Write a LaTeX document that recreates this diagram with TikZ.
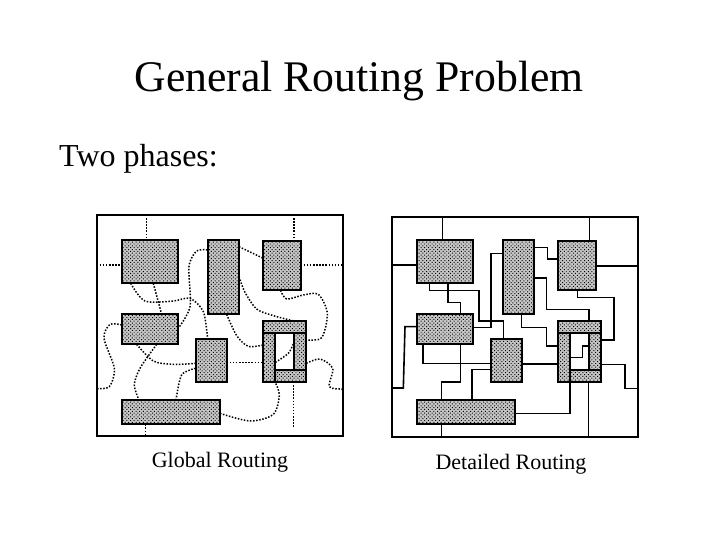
\documentclass[tikz,border=0pt]{standalone}
\usepackage{fontspec}
\setmainfont{Liberation Serif}
\usetikzlibrary{fit, patterns.meta}
\tikzset{
	board/.style={draw, line width=1.7pt, inner sep=0, outer sep=0},
	block/.style={draw, line width=2pt, inner sep=0, outer sep=0, preaction={fill=gray!45}, pattern={Dots[radius=.7pt, distance=2.6pt, angle=45]}, pattern color=black},
	wire/.style={line width=1.6pt},
	dotwire/.style={line width=1.5pt, dash pattern=on 1.5pt off 1.6pt},
	caption/.style={font=\fontsize{22}{26}\selectfont, inner sep=0}
}
\newcommand{\boxAt}[6]{
	\path (#3, #4)coordinate(#1a) (#5, #6)coordinate(#1b);
	\node[#2, fit=(#1a)(#1b)](#1){};
}
\newcommand{\routeBlocks}[1]{
	\boxAt{#1A}{block}{97}{106}{265}{235}
	\boxAt{#1B}{block}{355}{106}{447}{328}
	\boxAt{#1C}{block}{520}{107}{632}{256}
	\boxAt{#1D}{block}{95}{328}{263}{418}
	\boxAt{#1E}{block}{317}{402}{410}{530}
	\boxAt{#1F}{block}{95}{585}{390}{658}
	\boxAt{#1T}{block}{520}{348}{649}{383}
	\boxAt{#1L}{block}{520}{383}{556}{531}
	\boxAt{#1R}{block}{612}{383}{649}{494}
	\boxAt{#1S}{block}{556}{494}{649}{531}
}

\begin{document}
\begin{tikzpicture}[x=1pt, y=-1pt]
	\useasboundingbox (0, 0) rectangle (720, 540);
	\node[font=\fontsize{43.7}{50}\selectfont, inner sep=0](title) at (359, 81.5){General Routing Problem};
	\node[font=\fontsize{32}{38}\selectfont, inner sep=0, anchor=west](phases) at (59, 158.5){Two phases:};
	\node[caption](globalcap) at (220, 462){Global Routing};
	\node[caption](detailcap) at (511, 464){Detailed Routing};

	\begin{scope}[shift={(90, 205)}, x=1/3*1pt, y=-1/3*1pt]
		\boxAt{gFrame}{board}{20}{30}{758}{692}
		\routeBlocks{g}
		\draw[dotwire](gFrame.north -| 170, 0)--(gA.north -| 170, 0);
		\draw[dotwire](gFrame.west |- 0, 180)--(gA.west |- 0, 180);
		\draw[dotwire](gFrame.north -| 612, 0)--(gC.north -| 612, 0);
		\draw[dotwire](gC.east |- 0, 180)--(gFrame.east |- 0, 180);
		\draw[dotwire](gB.east |- 0, 125)--(gC.west |- 0, 160);
		\draw[dotwire]plot[smooth] coordinates{(gB.east |- 0, 215) (465, 262) (500, 312) (550, 332) (gT.north -| 612, 0)};
		\draw[dotwire]plot[smooth] coordinates{(gC.south -| 572, 0) (590, 282) (640, 270) (685, 268) (712, 325) (695, 398) (gR.east |- 0, 405)};
		\draw[dotwire]plot[smooth] coordinates{(gA.south -| 122, 0) (165, 288) (250, 288) (300, 280) (340, 320) (gE.north -| 353, 0)};
		\draw[dotwire](gA.south -| 190, 0)--(gD.north -| 215, 0);
		\draw[dotwire]plot[smooth] coordinates{(gD.east |- 0, 372) (300, 305) (297, 185) (320, 138) (gB.west |- 0, 135)};
		\draw[dotwire]plot[smooth] coordinates{(gB.south -| 410, 0) (440, 392) (475, 424) (gL.west |- 0, 420)};
		\draw[dotwire]plot[smooth] coordinates{(gD.west |- 0, 360) (60, 358) (42, 400) (73, 490) (58, 545) (gFrame.west |- 0, 551)};
		\draw[dotwire]plot[smooth] coordinates{(gD.south -| 140, 0) (190, 468) (250, 478) (gE.west |- 0, 475)};
		\draw[dotwire]plot[smooth] coordinates{(gD.south -| 200, 0) (150, 490) (133, 540) (gF.north -| 147, 0)};
		\draw[dotwire]plot[smooth] coordinates{(gE.west |- 0, 490) (275, 510) (gF.north -| 258, 0)};
		\draw[dotwire](gE.east |- 0, 473)--(gL.west |- 0, 473);
		\draw[dotwire]plot[smooth] coordinates{(gF.east |- 0, 625) (480, 648) (550, 628) (568, 570) (gL.south -| 555, 0)};
		\draw[dotwire](gF.south -| 167, 0)--(gFrame.south -| 167, 0);
		\coordinate(gStub) at (610, 668);
		\draw[dotwire](gS.south -| 610, 0)--(gStub);
		\draw[dotwire]plot[smooth] coordinates{(gR.east |- 0, 475) (690, 462) (728, 490) (718, 545) (gFrame.east |- 0, 552)};
		\draw[dotwire]plot[smooth] coordinates{(gL.east |- 0, 472) (595, 445) (gR.west |- 0, 412)};
	\end{scope}

	\begin{scope}[shift={(385, 205)}, x=1/3*1pt, y=-1/3*1pt]
		\boxAt{dFrame}{board}{22}{36}{760}{697}
		\routeBlocks{d}
		\draw[wire](dFrame.north -| 172, 0)--(dA.north -| 172, 0);
		\draw[wire](dFrame.west |- 0, 180)--(dA.west |- 0, 180);
		\draw[wire](dFrame.north -| 613, 0)--(dC.north -| 613, 0);
		\draw[wire](dC.east |- 0, 183)--(dFrame.east |- 0, 183);
		\draw[wire](dB.east |- 0, 128)--(487, 128)--(487, 162)--(dC.west |- 0, 162);
		\draw[wire](dB.east |- 0, 219)--(484, 219)--(484, 313)--(612, 313)--(dT.north -| 612, 0);
		\draw[wire](dC.south -| 578, 0)--(578, 277)--(687, 277)--(687, 405)--(dR.east |- 0, 405);
		\draw[wire](dA.south -| 133, 0)--(133, 256)--(282, 256)--(282, 348)--(355, 348)--(dE.north -| 355, 0);
		\draw[wire](dA.south -| 189, 0)--(189, 293)--(227, 293)--(dD.north -| 227, 0);
		\draw[wire](dD.east |- 0, 367)--(318, 367)--(318, 146)--(dB.west |- 0, 146);
		\draw[wire](dB.south -| 410, 0)--(410, 367)--(484, 367)--(484, 423)--(dL.west |- 0, 423);
		\draw[wire](dD.west |- 0, 365)--(60, 365)--(55, 549)--(dFrame.west |- 0, 549);
		\draw[wire](dD.south -| 114, 0)--(114, 476)--(dE.west |- 0, 476);
		\draw[wire](dD.south -| 226, 0)--(226, 531)--(170, 531)--(dF.north -| 170, 0);
		\draw[wire](dE.west |- 0, 494)--(261, 494)--(dF.north -| 261, 0);
		\draw[wire](dE.east |- 0, 477)--(dL.west |- 0, 477);
		\draw[wire](dF.east |- 0, 625)--(555, 625)--(dL.south -| 555, 0);
		\draw[wire](dF.south -| 170, 0)--(dFrame.south -| 170, 0);
		\draw[wire](dS.south -| 611, 0)--(dFrame.south -| 611, 0);
		\draw[wire](dR.east |- 0, 478)--(720, 478)--(720, 551)--(dFrame.east |- 0, 551);
		\draw[wire](dL.east |- 0, 458)--(592, 458)--(592, 423)--(dR.west |- 0, 423);
	\end{scope}
\end{tikzpicture}
\end{document}
